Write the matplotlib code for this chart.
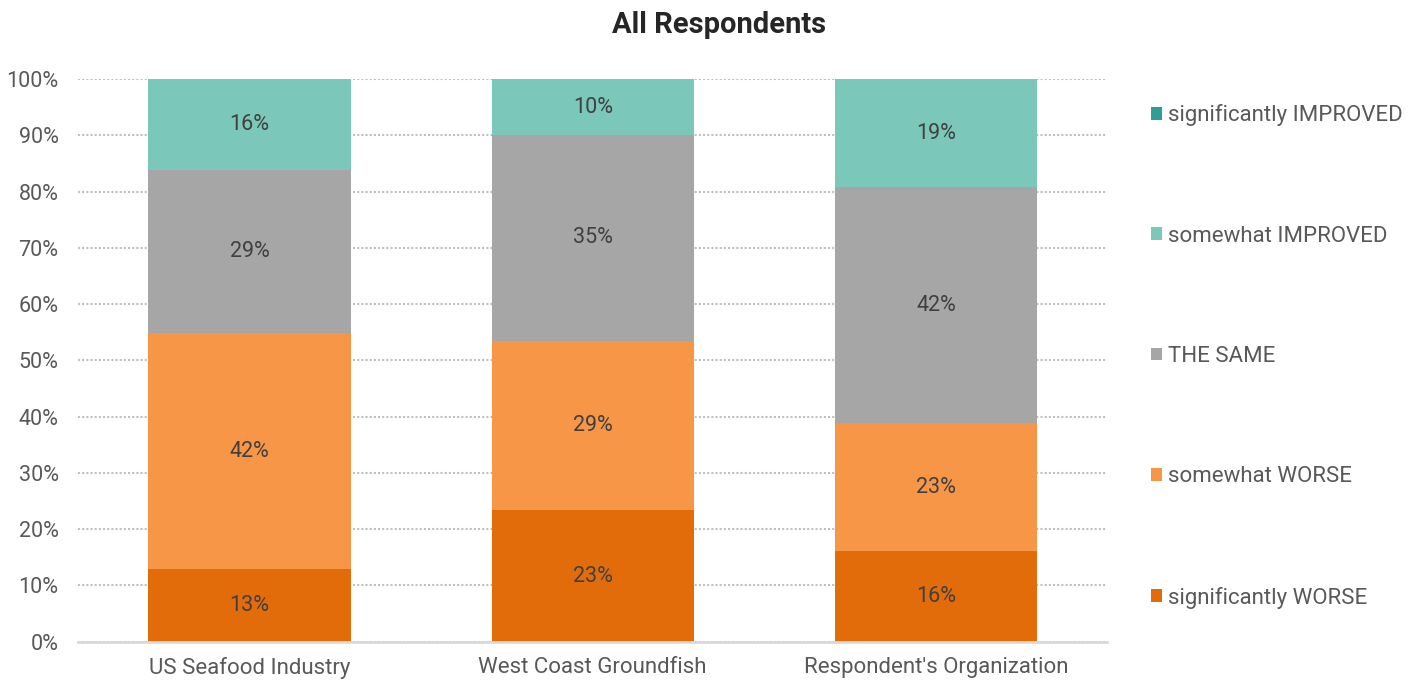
import matplotlib
matplotlib.use("Agg")
import matplotlib.pyplot as plt
import numpy as np
from matplotlib.patches import Patch

categories = ["US Seafood Industry", "West Coast Groundfish", "Respondent's Organization"]
series_names = ["significantly WORSE", "somewhat WORSE", "THE SAME",
                "somewhat IMPROVED", "significantly IMPROVED"]
sig_worse = [12.9, 22.6, 16.1]
some_worse = [42.0, 29.2, 22.8]
same = [29.0, 35.4, 41.9]
some_improved = [16.1, 9.6, 19.2]
sig_improved = [0.0, 0.0, 0.0]
colors = ["#E36C0A", "#F79646", "#A6A6A6", "#7BC7B9", "#2E9E96"]
yticks = [0, 10, 20, 30, 40, 50, 60, 70, 80, 90, 100]
title = "All Respondents"

plt.rcParams['font.family'] = ['Roboto', 'DejaVu Sans']

fig = plt.figure(figsize=(14.16, 6.82), dpi=100)
ax = fig.add_axes([0.0551, 0.059, 0.727, 0.825])

series = [sig_worse, some_worse, same, some_improved, sig_improved]
data = np.array(series, dtype=float)
totals = data.sum(axis=0)
pct = data / totals * 100.0
x = np.arange(len(categories))
bottom = np.zeros(len(categories))
for i, (name, vals) in enumerate(zip(series_names, pct)):
    bars = ax.bar(x, vals, 0.59, bottom=bottom, color=colors[i], label=name,
                  zorder=3, linewidth=0)
    for j, b in enumerate(bars):
        if data[i][j] > 0:
            ax.text(b.get_x() + b.get_width() / 2, bottom[j] + vals[j] / 2,
                    f"{data[i][j]:.0f}%", ha='center', va='center',
                    fontsize=15.5, color='#404040', zorder=4)
    bottom += vals

ax.set_xlim(-0.5, 2.5)
ax.set_ylim(0, 100)
ax.set_yticks(yticks)
ax.set_yticklabels([f"{v}%" for v in yticks])
ax.set_xticks(x)
ax.set_xticklabels(categories)
ax.tick_params(axis='y', length=0, labelsize=15.5, labelcolor='#595959', pad=14)
ax.tick_params(axis='x', length=0, labelsize=16, labelcolor='#595959', pad=11)
ax.yaxis.grid(True, linestyle=(0, (1, 1)), color='#BFBFBF', linewidth=1.5, zorder=0)
ax.set_axisbelow(True)
for s in ['top', 'right', 'left']:
    ax.spines[s].set_visible(False)
ax.spines['bottom'].set_color('#D9D9D9')
ax.spines['bottom'].set_linewidth(2)
ax.spines['bottom'].set_zorder(5)

handles = [Patch(facecolor=colors[i], label=series_names[i]) for i in range(5)][::-1]
leg = fig.legend(handles=handles, loc='upper left', bbox_to_anchor=(0.813, 0.847),
                 frameon=False, fontsize=16, labelcolor='#595959',
                 handlelength=0.5, handleheight=0.5, handletextpad=0.25,
                 labelspacing=4.47, borderpad=0, borderaxespad=0)

fig.text(0.508, 0.963, title, ha='center', va='center', fontsize=21,
         fontweight='bold', color='#262626')

fig.savefig("out.png", dpi=100)
